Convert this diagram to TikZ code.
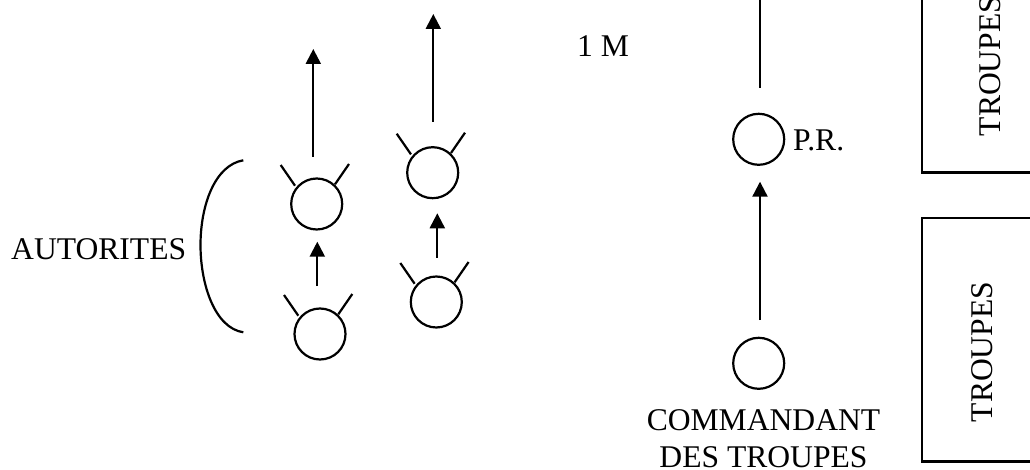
\documentclass[tikz,border=0pt]{standalone}
\usepackage{fontspec}
\setmainfont{Liberation Serif}
\usetikzlibrary{arrows.meta}
\tikzset{
  x=1pt,y=-1pt,
  person/.style={circle,draw,line width=2.2pt,minimum size=51pt,inner sep=0pt,outer sep=0pt},
  ear/.style={line width=2.2pt},
  link/.style={line width=2.2pt,-{Triangle[length=15pt,width=15pt]}},
  stem/.style={line width=2.2pt},
  frame/.style={draw,line width=2.4pt},
  lbl/.style={font=\fontsize{31.6}{37.3}\selectfont,inner sep=0pt,align=center}
}
\begin{document}
\begin{tikzpicture}
\useasboundingbox (0,0) rectangle (1030,470);
\node[person] (a) at (316.7,204) {};
\node[person] (b) at (320,334) {};
\node[person] (c) at (432.7,172.7) {};
\node[person] (d) at (436.3,302) {};
\node[person] (pr) at (758.7,139.3) {};
\node[person] (cmd) at (758.7,363.3) {};
\foreach \n in {a,b,c,d}{
  \draw[ear] (\n)+(-21.7,-18.3) -- +(-36,-39);
  \draw[ear] (\n)+(18.3,-19.7) -- +(32.3,-40);
}
\coordinate (a1s) at (313.3,156.7); \coordinate (a1t) at (313.3,49);
\coordinate (a2s) at (433.3,121.7); \coordinate (a2t) at (433.3,14);
\coordinate (a3s) at (317.3,286);   \coordinate (a3t) at (317.3,241.7);
\coordinate (a4s) at (437.3,257.7); \coordinate (a4t) at (437.3,213.3);
\coordinate (a5s) at (760,320);     \coordinate (a5t) at (760,181.7);
\coordinate (ls) at (759.7,88);     \coordinate (lt) at (759.7,0);
\draw[link] (a1s) -- (a1t);
\draw[link] (a2s) -- (a2t);
\draw[link] (a3s) -- (a3t);
\draw[link] (a4s) -- (a4t);
\draw[link] (a5s) -- (a5t);
\draw[stem] (ls) -- (lt);
\coordinate (bt) at (243.3,160.3); \coordinate (bb) at (243.3,332.3); \coordinate (bm) at (200.5,245);
\draw[ear] (bt) .. controls (215,165) and (200.5,205) .. (bm) .. controls (200.5,285) and (215,328) .. (bb);
\draw[frame] (1035,-5) -- (922,-5) -- (922,172.7) -- (1035,172.7);
\draw[frame] (1035,218) -- (922,218) -- (922,461.3) -- (1035,461.3);
\node[lbl,anchor=base west] (aut) at (11,259) {AUTORITES};
\node[lbl,anchor=base west] (m) at (577,56.7) {1 M};
\node[lbl,anchor=base west] (prl) at (793,151) {P.R.};
\node[lbl] (cl) at (763.5,438.7) {COMMANDANT\\DES TROUPES};
\node[lbl,rotate=90] (t1) at (990,66) {TROUPES};
\node[lbl,rotate=90] (t2) at (982,352) {TROUPES};
\end{tikzpicture}
\end{document}
